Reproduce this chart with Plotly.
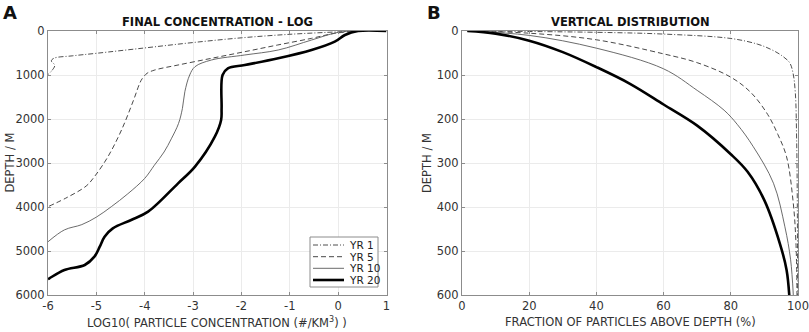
import plotly.graph_objects as go

# ---------- Panel A: log10 concentration vs depth ----------
a_yr1_x = [0.5, 0.0, -1.0, -2.0, -3.0, -4.0, -5.0, -5.5, -5.88, -5.93, -5.86, -5.92, -6.0]
a_yr1_d = [0, 20, 75, 155, 262, 385, 507, 565, 620, 680, 780, 900, 990]

a_yr5_x = [0.45, -0.07, -0.55, -1.25, -1.93, -2.62, -3.31, -3.79, -3.95, -4.05, -4.1, -4.23, -4.48, -4.76, -5.04, -5.21, -5.6, -6.0]
a_yr5_d = [0, 53, 167, 318, 470, 621, 773, 886, 960, 1080, 1180, 1568, 2250, 2856, 3311, 3523, 3780, 3993]

a_yr10_x = [0.4, 0.0, -0.55, -1.24, -1.93, -2.62, -2.96, -3.07, -3.17, -3.22, -3.3, -3.45, -3.6, -3.8, -4.0, -4.35, -4.69, -5.0, -5.3, -5.66, -6.0]
a_yr10_d = [0, 30, 205, 432, 545, 659, 811, 1000, 1379, 1758, 2100, 2450, 2750, 3050, 3350, 3700, 3992, 4230, 4400, 4520, 4790]

a_yr20_x = [1.0, 0.41, 0.14, -0.07, -0.55, -1.24, -1.93, -2.28, -2.39, -2.41, -2.42, -2.55, -2.96, -3.31, -3.93, -4.28, -4.66, -4.83, -4.93, -5.04, -5.24, -5.66, -5.97, -6.0]
a_yr20_d = [0, 0, 90, 242, 432, 621, 773, 848, 1000, 1750, 2023, 2402, 3083, 3462, 4106, 4295, 4485, 4674, 4902, 5129, 5318, 5432, 5620, 5640]

# ---------- Panel B: fraction of particles above depth ----------
b_yr1_x = [1.6, 40, 60, 80, 88, 92, 95, 97.5, 98.5, 99.2, 99.6, 99.8, 99.9]
b_yr1_d = [0, 3, 7, 17, 30, 42, 55, 72, 95, 140, 250, 400, 600]

b_yr5_x = [1.6, 20, 40, 60, 70, 80, 86, 91, 94, 96.6, 98.6, 99.4, 99.7]
b_yr5_d = [0, 5, 20, 52, 72, 105, 140, 190, 235, 286, 392, 483, 600]

b_yr10_x = [1.6, 20, 40, 60, 70, 78, 82, 86.7, 92.7, 96.1, 97.8, 98.6]
b_yr10_d = [0, 10, 39, 86, 135, 180, 213, 263, 346, 445, 520, 600]

b_yr20_x = [1.6, 10, 20, 30, 40, 50, 60, 70, 80, 85, 90, 94.6, 96.6, 97.4]
b_yr20_d = [0, 6, 22, 48, 82, 120, 167, 215, 280, 320, 385, 483, 543, 600]

a_xticks = [-6, -5, -4, -3, -2, -1, 0, 1]
a_xticklabels = ["-6", "-5", "-4", "-3", "-2", "-1", "0", "1"]

names = ["YR 1", "YR 5", "YR 10", "YR 20"]
styles = [
    dict(color="#222222", width=0.8, dash="5px,2px,1px,2px"),
    dict(color="#333333", width=0.9, dash="5px,3px"),
    dict(color="#5a5a5a", width=0.9, dash="solid"),
    dict(color="#000000", width=2.6, dash="solid"),
]

fig = go.Figure()
a_sets = [(a_yr1_x, a_yr1_d), (a_yr5_x, a_yr5_d), (a_yr10_x, a_yr10_d), (a_yr20_x, a_yr20_d)]
b_sets = [(b_yr1_x, b_yr1_d), (b_yr5_x, b_yr5_d), (b_yr10_x, b_yr10_d), (b_yr20_x, b_yr20_d)]
for n, st, (x, d) in zip(names, styles, a_sets):
    fig.add_trace(go.Scatter(x=x, y=d, mode="lines", name=n, line=st,
                             line_shape="spline", showlegend=False, xaxis="x", yaxis="y"))
for n, st, (x, d) in zip(names, styles, b_sets):
    fig.add_trace(go.Scatter(x=x, y=d, mode="lines", name=n, line=st,
                             line_shape="spline", showlegend=False, xaxis="x2", yaxis="y2"))

FONT = "DejaVu Sans"
TXT = "#333333"
FS = 11.5
axis_common = dict(showline=True, linecolor="#8c8c8c", linewidth=1, mirror="ticks",
                   ticks="inside", ticklen=3, tickcolor="#8c8c8c", automargin=False,
                   showgrid=True, gridcolor="#ebebeb", gridwidth=1, zeroline=False,
                   tickfont=dict(family=FONT, size=FS, color=TXT))

W, H = 809, 332
L, R, T, B = 48, 11, 31, 37
pw, ph = W - L - R, H - T - B


def px_x(p):
    return (p - L) / pw


def px_y(p):
    return 1 - (p - T) / ph


fig.update_layout(
    width=W, height=H,
    margin=dict(l=L, r=R, t=T, b=B),
    paper_bgcolor="white", plot_bgcolor="white",
    font=dict(family=FONT, size=FS, color=TXT),
    showlegend=False,
    xaxis=dict(domain=[0, px_x(386.5)], range=[-6, 1], tickvals=a_xticks, ticktext=a_xticklabels,
               anchor="y", **axis_common),
    yaxis=dict(domain=[0, 1], range=[6000, 0], dtick=1000, anchor="x", **axis_common),
    xaxis2=dict(domain=[px_x(462), 1], range=[0, 100], dtick=20, anchor="y2", **axis_common),
    yaxis2=dict(domain=[0, 1], range=[600, 0], dtick=100, anchor="x2", **axis_common),
)

ann = []
# panel titles
ann.append(dict(text="<b>FINAL CONCENTRATION - LOG</b>", x=px_x(217), y=px_y(22.5),
                yanchor="middle", xanchor="center",
                font=dict(family=FONT, size=FS, color="#111111")))
ann.append(dict(text="<b>VERTICAL DISTRIBUTION</b>", x=px_x(630), y=px_y(22.5),
                yanchor="middle", xanchor="center",
                font=dict(family=FONT, size=FS, color="#111111")))
# panel letters
ann.append(dict(text="<b>A</b>", x=px_x(10), y=px_y(12.5), xanchor="center", yanchor="middle",
                font=dict(family=FONT, size=18, color="#111111")))
ann.append(dict(text="<b>B</b>", x=px_x(434), y=px_y(12.5), xanchor="center", yanchor="middle",
                font=dict(family=FONT, size=18, color="#111111")))
# axis titles
ann.append(dict(text="LOG10( PARTICLE CONCENTRATION (#/KM<sup>3</sup>) )", x=px_x(217), y=px_y(322),
                xanchor="center", yanchor="middle", font=dict(family=FONT, size=FS, color=TXT)))
ann.append(dict(text="FRACTION OF PARTICLES ABOVE DEPTH (%)", x=px_x(630), y=px_y(322),
                xanchor="center", yanchor="middle", font=dict(family=FONT, size=FS, color=TXT)))
ann.append(dict(text="DEPTH / M", x=px_x(9.5), y=px_y(163), textangle=-90,
                xanchor="center", yanchor="middle", font=dict(family=FONT, size=FS, color=TXT)))
ann.append(dict(text="DEPTH / M", x=px_x(427), y=px_y(163), textangle=-90,
                xanchor="center", yanchor="middle", font=dict(family=FONT, size=FS, color=TXT)))

# manual legend (compact, as in the reference)
shapes = [dict(type="rect", xref="paper", yref="paper", x0=px_x(310), x1=px_x(378),
               y0=px_y(287), y1=px_y(237), line=dict(color="#8c8c8c", width=1),
               fillcolor="white", layer="above")]
leg_y = [245, 256.7, 268.3, 280]
for n, st, yy in zip(names, styles, leg_y):
    shapes.append(dict(type="line", xref="paper", yref="paper", x0=px_x(313), x1=px_x(344),
                       y0=px_y(yy), y1=px_y(yy), layer="above",
                       line=dict(color=st["color"], width=st["width"], dash=st["dash"])))
    ann.append(dict(text=n, x=px_x(346.5), y=px_y(yy), xanchor="left", yanchor="middle",
                    font=dict(family=FONT, size=10.5, color="#222222")))

for a in ann:
    a.update(xref="paper", yref="paper", showarrow=False)
fig.update_layout(annotations=ann, shapes=shapes)

# remove the default page margin so the figure fills the window exactly
fig.write_html("out.html", config={"displayModeBar": False},
               post_script="document.body.style.margin='0';")
